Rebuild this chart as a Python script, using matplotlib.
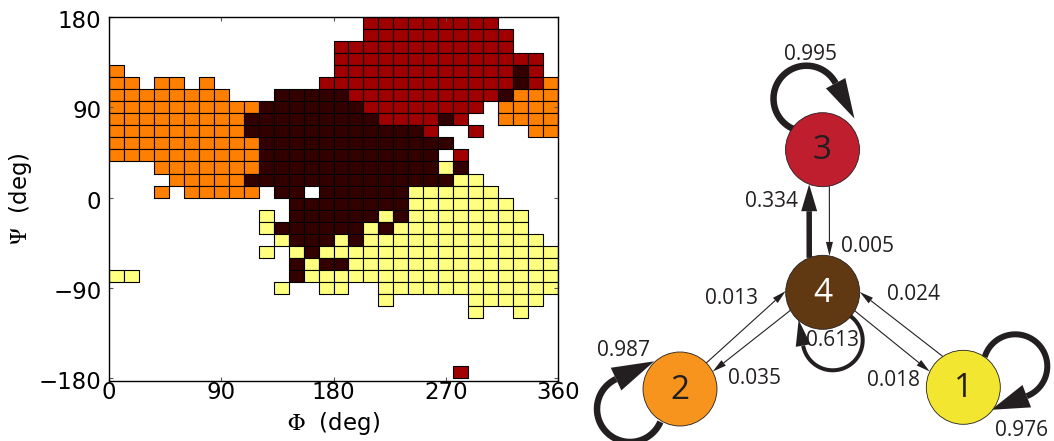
import numpy as np
import matplotlib
matplotlib.use("Agg")
import matplotlib.pyplot as plt
import matplotlib.transforms as mtransforms
from matplotlib.patches import Rectangle, Circle, Polygon
from matplotlib.collections import PatchCollection

# ---------------------------------------------------------------- data
PHI_EDGES = np.arange(0, 361, 12)        # 30 phi bins (deg)
PSI_EDGES = np.arange(180, -181, -12)    # 30 psi bins, top row first (deg)

# metastable state assigned to each (phi, psi) bin, one string per psi row
# from +180 down to -180 (written in groups of five phi bins);
# '.' marks an unpopulated bin
STATE_MAP = [r.replace(" ", "") for r in [
    "..... ..... ..... ..333 33333 3....",
    "..... ..... ..... ..333 33333 33...",
    "..... ..... ..... 33333 33333 33...",
    "..... ..... ..... 33333 33333 3333.",
    "2.... ..... ..... 33333 33333 3343.",
    "22.22 .2... ....3 33333 33333 33432",
    "22222 222.. .4444 43333 33333 34222",
    "22222 22222 44444 44333 33333 .2222",
    "22222 22224 44444 44433 3343. .2222",
    "22222 22224 44444 44444 43..3 ...22",
    "22222 22222 44444 44444 444.. .....",
    "22222 22222 44444 44444 44.3. .....",
    "...22 22222 44444 44444 4414. .....",
    "....2 22224 44444 44444 44411 .....",
    "...2. 22222 .44.4 44444 11111 1....",
    "..... ..... ..444 44444 11111 11...",
    "..... ..... 1.444 44414 11111 111..",
    "..... ..... 14444 44141 11111 111..",
    "..... ..... .1444 14111 11111 1111.",
    "..... ..... 1.141 11111 11111 11111",
    "..... ..... ..414 41111 11111 11111",
    "11... ..... ..411 11111 11111 11111",
    "..... ..... .1..1 1..11 11111 11111",
    "..... ..... ..... ...1. ....1 1111.",
    "..... ..... ..... ..... ....1 ..1..",
    "..... ..... ..... ..... ..... .....",
    "..... ..... ..... ..... ..... .....",
    "..... ..... ..... ..... ..... .....",
    "..... ..... ..... ..... ..... .....",
    "..... ..... ..... ..... ...3. .....",
]]

STATE_COLORS = {"1": "#FFFF80", "2": "#FF8000", "3": "#A00000", "4": "#330000"}

X_TICKS = [0, 90, 180, 270, 360]
Y_TICKS = [-180, -90, 0, 90, 180]

# Markov state model: transition probabilities, row = from, column = to
STATES = [1, 2, 3, 4]
TRANSITIONS = [
    [0.976, 0.000, 0.000, 0.024],
    [0.000, 0.987, 0.000, 0.013],
    [0.000, 0.000, 0.995, 0.005],
    [0.018, 0.035, 0.334, 0.613],
]
NODE_COLORS = {1: "#F2E630", 2: "#F7941E", 3: "#BE1E2D", 4: "#603913"}
NODE_TEXT_COLORS = {1: "#231F20", 2: "#231F20", 3: "#231F20", 4: "#FFFFFF"}

# ------------------------------------------------------------- layout
# the network panel is laid out in figure pixels (y pointing down)
NODE_POS = {1: (963.3, 387.3), 2: (680.0, 389.0), 3: (822.5, 149.7), 4: (822.7, 292.3)}
NODE_R = 37

# straight edges: lateral offsets (px) at start / end, line width (px), head
EDGE_STYLE = {
    (4, 3): dict(off=(-13.4, -13.4), lw=5.5, head=(27, 16), label=(772, 199.5)),
    (3, 4): dict(off=(-6.8, -6.8), lw=1.1, head=(14, 7), label=(868, 245)),
    (2, 4): dict(off=(-6.8, -21.8), lw=1.1, head=(14, 7), label=(732, 296)),
    (4, 2): dict(off=(3.2, -3.9), lw=1.1, head=(14, 7), label=(755, 377)),
    (4, 1): dict(off=(-2.6, 5.7), lw=1.1, head=(14, 7), label=(894, 379)),
    (1, 4): dict(off=(14.1, 21.0), lw=1.1, head=(14, 7), label=(914, 293)),
}
# self loops: loop centre offset from node, radius, start/end angle, lw, head
LOOP_STYLE = {
    3: dict(c=(-16, -51), r=33, a=(113, 332), lw=6.5, head=(40, 22), label=(811, 53)),
    4: dict(c=(10, 48), r=30, a=(300, 530), lw=4.0, head=(26, 15), label=(833, 339)),
    2: dict(c=(-50, 20), r=33, a=(23, 245), lw=6.5, head=(42, 25), label=(624, 349)),
    1: dict(c=(52, -21), r=32, a=(197, 429), lw=6.0, head=(38, 24), label=(1022, 428)),
}
INK = "#231F20"
PX = 0.72  # points per pixel at 100 dpi

fig = plt.figure(figsize=(10.54, 4.41), dpi=100)
plt.rcParams["mathtext.fontset"] = "stix"

# ---------------------------------------------------------- state map
ax = fig.add_axes([109 / 1054, 1 - 380.5 / 441, 449 / 1054, 363.8 / 441])
cells, colors = [], []
for j, row in enumerate(STATE_MAP):
    assert len(row) == 30, (j, len(row))
    for i, s in enumerate(row):
        if s == ".":
            continue
        x0, x1 = PHI_EDGES[i], PHI_EDGES[i + 1]
        y1, y0 = PSI_EDGES[j], PSI_EDGES[j + 1]
        cells.append(Rectangle((x0, y0), x1 - x0, y1 - y0))
        colors.append(STATE_COLORS[s])
ax.add_collection(PatchCollection(cells, facecolors=colors, edgecolors="black",
                                  linewidths=0.8))
ax.set_xlim(0, 360)
ax.set_ylim(-182.3, 180.3)
ax.set_xticks(X_TICKS)
ax.set_yticks(Y_TICKS)
tick_font = dict(family="DejaVu Sans", size=16.5)
ax.set_xticklabels([str(v) for v in X_TICKS], fontdict=tick_font)
ax.set_yticklabels([str(v).replace("-", "\u2212") for v in Y_TICKS], fontdict=tick_font)
ax.tick_params(direction="in", length=3, width=0.8, color="0.35", top=True, right=True)
ax.tick_params(axis="x", pad=0.5)
ax.tick_params(axis="y", pad=5.5)
# the psi tick labels sit slightly below their ticks
shift = mtransforms.ScaledTranslation(0, -1.5 / 72, fig.dpi_scale_trans)
for lbl in ax.get_yticklabels():
    lbl.set_transform(lbl.get_transform() + shift)
for sp in ax.spines.values():
    sp.set_linewidth(1.0)
ax.set_xlabel(r"$\Phi$  (deg)", fontsize=16.5, family="DejaVu Sans", labelpad=4)
ax.set_ylabel(r"$\Psi$  (deg)", fontsize=16.5, family="DejaVu Sans", labelpad=3)

# ------------------------------------------------------------ network
axn = fig.add_axes([580 / 1054, 0, 474 / 1054, 1])
axn.set_xlim(580, 1054)
axn.set_ylim(441, 0)
axn.axis("off")

lab_font = dict(family="Open Sans", size=15, color=INK)


def arrow_head(base, u, length, width):
    n = np.array([-u[1], u[0]])
    tip = base + length * u
    return Polygon([tip, base + n * width / 2, base - n * width / 2], closed=True,
                   fc=INK, ec="none", zorder=2)


for a_i, a in enumerate(STATES):
    for b_i, b in enumerate(STATES):
        p = TRANSITIONS[a_i][b_i]
        if p == 0:
            continue
        if a == b:
            st = LOOP_STYLE[a]
            cx = NODE_POS[a][0] + st["c"][0]
            cy = NODE_POS[a][1] + st["c"][1]
            t = np.radians(np.linspace(st["a"][0], st["a"][1], 200))
            xs, ys = cx + st["r"] * np.cos(t), cy + st["r"] * np.sin(t)
            axn.plot(xs, ys, color=INK, lw=st["lw"] * PX, solid_capstyle="butt", zorder=2)
            u = np.array([-np.sin(t[-1]), np.cos(t[-1])])
            axn.add_patch(arrow_head(np.array([xs[-1], ys[-1]]), u, *st["head"]))
        else:
            st = EDGE_STYLE[(a, b)]
            ca, cb = np.array(NODE_POS[a], float), np.array(NODE_POS[b], float)
            u = (cb - ca) / np.linalg.norm(cb - ca)
            n = np.array([-u[1], u[0]])
            d0, d1 = st["off"]
            p0 = ca + d0 * n + np.sqrt(NODE_R ** 2 - d0 ** 2) * u
            p1 = cb + d1 * n - np.sqrt(NODE_R ** 2 - d1 ** 2) * u
            v = (p1 - p0) / np.linalg.norm(p1 - p0)
            hl, hw = st["head"]
            base = p1 - hl * v
            axn.plot([p0[0], base[0]], [p0[1], base[1]], color=INK, lw=st["lw"] * PX,
                     solid_capstyle="butt", zorder=2)
            axn.add_patch(arrow_head(base, v, hl, hw))
        lx, ly = st["label"]
        axn.text(lx, ly + 7.5, f"{p:.3f}", ha="center", va="baseline", zorder=4, **lab_font)

for s in STATES:
    axn.add_patch(Circle(NODE_POS[s], NODE_R, fc=NODE_COLORS[s], ec=INK, lw=0.6, zorder=3))
    axn.text(NODE_POS[s][0], NODE_POS[s][1] + 9.7, str(s), ha="center", va="baseline",
             family="Open Sans", size=24, color=NODE_TEXT_COLORS[s], zorder=4)

fig.savefig("out.png", dpi=100)
